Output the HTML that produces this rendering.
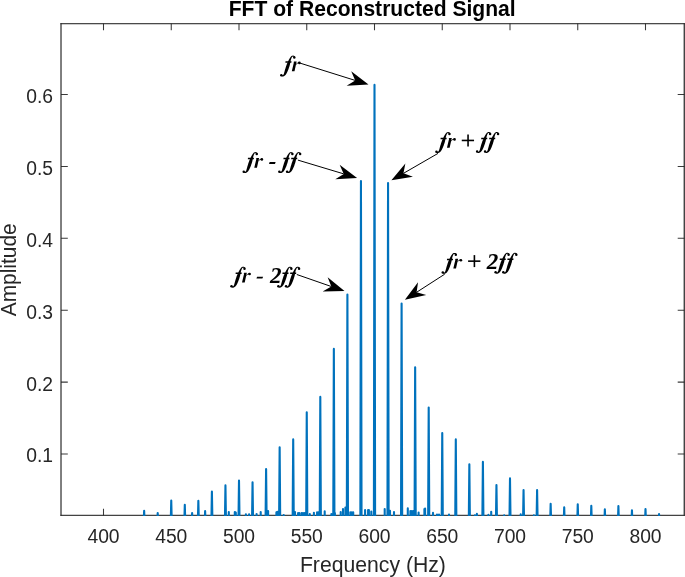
<!DOCTYPE html>
<html><head><meta charset="utf-8"><style>
html,body{margin:0;padding:0;background:#fff;overflow:hidden;width:685px;height:577px}
svg{display:block;will-change:transform}
text{white-space:pre}
</style></head><body>
<svg width="685" height="577" viewBox="0 0 685 577">
<rect width="685" height="577" fill="#fff"/>
<defs><clipPath id="c"><rect x="61.0" y="23.5" width="623.5" height="492.5"/></clipPath></defs>
<path d="M103.5 515.5v-6.8 M103.5 23.5v6.8 M171.25 515.5v-6.8 M171.25 23.5v6.8 M239.0 515.5v-6.8 M239.0 23.5v6.8 M306.75 515.5v-6.8 M306.75 23.5v6.8 M374.5 515.5v-6.8 M374.5 23.5v6.8 M442.25 515.5v-6.8 M442.25 23.5v6.8 M510.0 515.5v-6.8 M510.0 23.5v6.8 M577.75 515.5v-6.8 M577.75 23.5v6.8 M645.5 515.5v-6.8 M645.5 23.5v6.8 M61.0 454.00h6.8 M684.5 454.00h-6.8 M61.0 382.10h6.8 M684.5 382.10h-6.8 M61.0 310.20h6.8 M684.5 310.20h-6.8 M61.0 238.30h6.8 M684.5 238.30h-6.8 M61.0 166.40h6.8 M684.5 166.40h-6.8 M61.0 94.50h6.8 M684.5 94.50h-6.8" stroke="#3a3a3a" stroke-width="1.05" fill="none"/>
<g fill="#262626"><rect x="60.42" y="23.17" width="624.44" height="1.07"/><rect x="60.42" y="514.78" width="624.44" height="1.08"/><rect x="60.42" y="23.17" width="1.17" height="492.69"/><rect x="683.64" y="23.17" width="1.22" height="492.69"/></g>
<g clip-path="url(#c)"><path d="M143.55 525.9L144.15 510.8L144.75 525.9 M157.10 525.9L157.70 513.1L158.30 525.9 M170.65 525.9L171.25 500.6L171.85 525.9 M184.20 525.9L184.80 504.9L185.40 525.9 M191.52 525.9L192.12 513.1L192.72 525.9 M197.75 525.9L198.35 500.9L198.95 525.9 M204.53 525.9L205.12 511.1L205.72 525.9 M211.30 525.9L211.90 491.6L212.50 525.9 M224.85 525.9L225.45 485.4L226.05 525.9 M238.40 525.9L239.00 480.5L239.60 525.9 M251.95 525.9L252.55 482.3L253.15 525.9 M265.50 525.9L266.10 469.0L266.70 525.9 M279.05 525.9L279.65 447.2L280.25 525.9 M292.60 525.9L293.20 439.4L293.80 525.9 M306.15 525.9L306.75 412.2L307.35 525.9 M319.70 525.9L320.30 396.9L320.90 525.9 M333.25 525.9L333.85 348.9L334.45 525.9 M346.80 525.9L347.40 294.6L348.00 525.9 M360.35 525.9L360.95 181.0L361.55 525.9 M373.90 525.9L374.50 84.9L375.10 525.9 M387.45 525.9L388.05 183.0L388.65 525.9 M401.00 525.9L401.60 303.5L402.20 525.9 M414.55 525.9L415.15 367.2L415.75 525.9 M428.10 525.9L428.70 407.6L429.30 525.9 M441.65 525.9L442.25 433.0L442.85 525.9 M455.20 525.9L455.80 439.4L456.40 525.9 M468.75 525.9L469.35 464.3L469.95 525.9 M482.30 525.9L482.90 461.9L483.50 525.9 M495.85 525.9L496.45 485.0L497.05 525.9 M509.40 525.9L510.00 478.4L510.60 525.9 M522.95 525.9L523.55 490.1L524.15 525.9 M536.50 525.9L537.10 490.1L537.70 525.9 M550.05 525.9L550.65 503.8L551.25 525.9 M563.60 525.9L564.20 507.2L564.80 525.9 M577.15 525.9L577.75 504.3L578.35 525.9 M590.70 525.9L591.30 505.7L591.90 525.9 M604.25 525.9L604.85 509.2L605.45 525.9 M617.80 525.9L618.40 506.0L619.00 525.9 M631.35 525.9L631.95 510.4L632.55 525.9 M644.90 525.9L645.50 509.0L646.10 525.9 M658.45 525.9L659.05 514.0L659.65 525.9 M228.80 517.5V512.0 M234.80 517.5V512.0 M235.80 517.5V512.5 M245.90 517.5V514.2 M249.10 517.5V514.2 M256.60 517.5V514.0 M260.70 517.5V512.1 M268.10 517.5V511.0 M276.40 517.5V512.4 M277.50 517.5V511.7 M283.70 517.5V515.0 M295.00 517.5V512.0 M298.10 517.5V513.1 M299.30 517.5V513.1 M301.60 517.5V513.1 M303.00 517.5V513.1 M304.50 517.5V513.1 M309.80 517.5V514.0 M313.90 517.5V512.8 M317.10 517.5V512.3 M318.50 517.5V512.3 M324.70 517.5V511.4 M331.40 517.5V514.0 M334.90 517.5V513.0 M340.70 517.5V512.0 M343.00 517.5V509.0 M345.40 517.5V507.6 M350.30 517.5V512.3 M351.80 517.5V512.3 M353.20 517.5V512.3 M365.10 517.5V510.0 M368.10 517.5V510.0 M368.90 517.5V510.0 M371.30 517.5V511.6 M384.70 517.5V509.0 M390.00 517.5V510.8 M394.00 517.5V512.0 M407.80 517.5V508.4 M410.40 517.5V511.1 M411.80 517.5V511.1 M413.30 517.5V511.1 M418.60 517.5V512.5 M424.40 517.5V509.0 M425.10 517.5V508.5 M433.00 517.5V512.9 M437.00 517.5V514.6 M439.00 517.5V514.6 M449.00 517.5V514.6 M474.90 517.5V515.2 M476.90 517.5V513.9 M488.40 517.5V514.9 M491.20 517.5V511.8 M504.20 517.5V515.4 M520.70 517.5V514.4 M533.90 517.5V515.4" stroke="#0072BD" stroke-width="2.1" stroke-linecap="round" stroke-linejoin="round" fill="none"/></g>
<text transform="translate(103.50 543.10) scale(0.98 1.03)" text-anchor="middle" font-family="Liberation Sans" font-weight="normal" font-style="normal" font-size="19.7" fill="#262626">400</text>
<text transform="translate(171.25 543.10) scale(0.98 1.03)" text-anchor="middle" font-family="Liberation Sans" font-weight="normal" font-style="normal" font-size="19.7" fill="#262626">450</text>
<text transform="translate(239.00 543.10) scale(0.98 1.03)" text-anchor="middle" font-family="Liberation Sans" font-weight="normal" font-style="normal" font-size="19.7" fill="#262626">500</text>
<text transform="translate(306.75 543.10) scale(0.98 1.03)" text-anchor="middle" font-family="Liberation Sans" font-weight="normal" font-style="normal" font-size="19.7" fill="#262626">550</text>
<text transform="translate(374.50 543.10) scale(0.98 1.03)" text-anchor="middle" font-family="Liberation Sans" font-weight="normal" font-style="normal" font-size="19.7" fill="#262626">600</text>
<text transform="translate(442.25 543.10) scale(0.98 1.03)" text-anchor="middle" font-family="Liberation Sans" font-weight="normal" font-style="normal" font-size="19.7" fill="#262626">650</text>
<text transform="translate(510.00 543.10) scale(0.98 1.03)" text-anchor="middle" font-family="Liberation Sans" font-weight="normal" font-style="normal" font-size="19.7" fill="#262626">700</text>
<text transform="translate(577.75 543.10) scale(0.98 1.03)" text-anchor="middle" font-family="Liberation Sans" font-weight="normal" font-style="normal" font-size="19.7" fill="#262626">750</text>
<text transform="translate(645.50 543.10) scale(0.98 1.03)" text-anchor="middle" font-family="Liberation Sans" font-weight="normal" font-style="normal" font-size="19.7" fill="#262626">800</text>
<text transform="translate(53.00 462.40) scale(0.98 1.03)" text-anchor="end" font-family="Liberation Sans" font-weight="normal" font-style="normal" font-size="19.7" fill="#262626">0.1</text>
<text transform="translate(53.00 390.50) scale(0.98 1.03)" text-anchor="end" font-family="Liberation Sans" font-weight="normal" font-style="normal" font-size="19.7" fill="#262626">0.2</text>
<text transform="translate(53.00 318.60) scale(0.98 1.03)" text-anchor="end" font-family="Liberation Sans" font-weight="normal" font-style="normal" font-size="19.7" fill="#262626">0.3</text>
<text transform="translate(53.00 246.70) scale(0.98 1.03)" text-anchor="end" font-family="Liberation Sans" font-weight="normal" font-style="normal" font-size="19.7" fill="#262626">0.4</text>
<text transform="translate(53.00 174.80) scale(0.98 1.03)" text-anchor="end" font-family="Liberation Sans" font-weight="normal" font-style="normal" font-size="19.7" fill="#262626">0.5</text>
<text transform="translate(53.00 102.90) scale(0.98 1.03)" text-anchor="end" font-family="Liberation Sans" font-weight="normal" font-style="normal" font-size="19.7" fill="#262626">0.6</text>
<text transform="translate(372.90 571.50) scale(1.0 1.045)" text-anchor="middle" font-family="Liberation Sans" font-weight="normal" font-style="normal" font-size="21.2" fill="#262626">Frequency (Hz)</text>
<text transform="translate(16.20 269.80) rotate(-90) scale(1.0 1.045)" text-anchor="middle" font-family="Liberation Sans" font-weight="normal" font-style="normal" font-size="20.9" fill="#262626">Amplitude</text>
<text transform="translate(372.20 15.80) scale(1.0 1.045)" text-anchor="middle" font-family="Liberation Sans" font-weight="bold" font-style="normal" font-size="21.1" fill="#000">FFT of Reconstructed Signal</text>
<path d="M299.70 63.00L355.20 80.42" stroke="#000" stroke-width="1.0" fill="none"/><path d="M368.50 84.60L346.66 85.71L355.20 80.42L351.22 71.21Z" fill="#000"/>
<path d="M297.90 160.10L343.75 173.89" stroke="#000" stroke-width="1.0" fill="none"/><path d="M357.10 177.90L335.28 179.28L343.75 173.89L339.66 164.72Z" fill="#000"/>
<path d="M438.00 153.40L403.47 173.33" stroke="#000" stroke-width="1.0" fill="none"/><path d="M391.40 180.30L405.35 163.47L403.47 173.33L412.95 176.63Z" fill="#000"/>
<path d="M296.80 274.50L331.33 286.52" stroke="#000" stroke-width="1.0" fill="none"/><path d="M344.50 291.10L322.64 291.54L331.33 286.52L327.64 277.18Z" fill="#000"/>
<path d="M444.70 274.20L416.62 292.26" stroke="#000" stroke-width="1.0" fill="none"/><path d="M404.90 299.80L418.03 282.32L416.62 292.26L426.25 295.10Z" fill="#000"/>
<g fill="#000"><path d="M295.13 56.74L295.08 56.70L295.02 56.64L294.93 56.54L294.82 56.41L294.69 56.28L294.55 56.14L294.38 56.01L294.20 55.89L294.02 55.81L293.85 55.74L293.68 55.69L293.50 55.65L293.31 55.62L293.13 55.60L292.94 55.59L292.75 55.60L292.57 55.63L292.39 55.67L292.21 55.72L292.03 55.78L291.85 55.86L291.67 55.95L291.50 56.07L291.33 56.20L291.16 56.35L291.00 56.51L290.86 56.68L290.72 56.86L290.59 57.04L290.45 57.23L290.32 57.42L290.19 57.61L290.05 57.82L289.90 58.03L289.76 58.25L289.61 58.48L289.46 58.72L289.31 58.97L289.16 59.23L289.02 59.50L288.87 59.78L288.73 60.07L288.59 60.37L288.46 60.67L288.32 60.96L288.19 61.26L288.05 61.56L287.91 61.86L287.77 62.16L287.63 62.45L287.49 62.74L287.34 63.04L287.19 63.35L287.04 63.69L286.89 64.06L286.73 64.46L286.56 64.92L286.38 65.42L286.20 65.96L286.01 66.52L285.83 67.08L285.65 67.63L285.49 68.15L285.33 68.64L285.19 69.11L285.06 69.57L284.93 70.02L284.81 70.45L284.70 70.87L284.59 71.26L284.49 71.63L284.39 71.97L284.30 72.28L284.23 72.56L284.16 72.82L284.10 73.05L284.04 73.26L283.98 73.46L283.92 73.64L283.86 73.81L283.79 73.97L283.72 74.12L283.65 74.26L283.58 74.39L283.50 74.52L283.41 74.64L283.32 74.75L283.23 74.86L283.14 74.96L283.06 75.06L282.97 75.14L282.90 75.21L282.82 75.26L282.76 75.31L282.69 75.34L282.66 75.35L282.62 75.35L282.56 75.34L282.47 75.31L282.36 75.26L282.24 75.20L282.13 75.14L282.02 75.08L281.93 75.04L281.47 76.26L281.54 76.28L281.63 76.31L281.76 76.35L281.92 76.41L282.10 76.46L282.29 76.51L282.51 76.54L282.74 76.55L282.96 76.52L283.14 76.49L283.33 76.43L283.50 76.37L283.68 76.30L283.84 76.22L284.01 76.13L284.17 76.04L284.33 75.94L284.49 75.83L284.66 75.71L284.84 75.58L285.01 75.43L285.19 75.27L285.37 75.09L285.54 74.89L285.71 74.68L285.87 74.47L286.03 74.25L286.18 74.02L286.33 73.78L286.49 73.52L286.64 73.24L286.81 72.93L286.98 72.59L287.16 72.23L287.34 71.84L287.53 71.43L287.71 71.01L287.90 70.57L288.08 70.12L288.27 69.66L288.45 69.16L288.64 68.63L288.83 68.07L289.02 67.51L289.21 66.95L289.38 66.41L289.53 65.90L289.67 65.44L289.79 65.02L289.88 64.64L289.96 64.28L290.03 63.94L290.10 63.61L290.16 63.29L290.22 62.97L290.29 62.64L290.36 62.31L290.42 61.97L290.49 61.65L290.54 61.33L290.60 61.03L290.66 60.74L290.72 60.46L290.78 60.20L290.85 59.94L290.93 59.68L291.00 59.43L291.08 59.19L291.16 58.95L291.24 58.72L291.33 58.50L291.41 58.29L291.50 58.08L291.59 57.88L291.67 57.69L291.76 57.52L291.84 57.36L291.92 57.22L292.00 57.10L292.07 57.00L292.16 56.92L292.25 56.84L292.34 56.78L292.44 56.72L292.54 56.67L292.65 56.64L292.75 56.61L292.85 56.60L292.95 56.59L293.05 56.60L293.16 56.61L293.26 56.64L293.37 56.68L293.47 56.72L293.55 56.77L293.60 56.81L293.62 56.85L293.65 56.92L293.68 57.01L293.72 57.12L293.75 57.23L293.79 57.35L293.83 57.47L293.87 57.56Z"/><path d="M293.05 57.55a1.25 1.25 0 1 0 2.5 0a1.25 1.25 0 1 0 -2.5 0Z"/><path d="M280.05 75.15a1.25 1.25 0 1 0 2.5 0a1.25 1.25 0 1 0 -2.5 0Z"/><path d="M285.50 61.35L291.50 61.35L291.40 62.85L285.40 62.85Z"/><path d="M291.80 71.25L294.50 71.25L296.65 61.55L294.15 61.55L293.30 62.15L293.95 62.30Z"/><path d="M296.19 64.71L296.30 64.59L296.45 64.41L296.62 64.20L296.81 63.99L297.00 63.80L297.18 63.66L297.35 63.56L297.53 63.46L297.71 63.39L297.89 63.33L298.07 63.30L298.23 63.28L298.38 63.30L298.54 63.34L298.70 63.40L298.86 63.46L299.01 63.51L299.14 63.55L299.06 61.95L298.97 62.00L298.83 62.05L298.64 62.13L298.42 62.21L298.19 62.31L297.97 62.42L297.77 62.54L297.58 62.66L297.39 62.79L297.20 62.93L297.01 63.08L296.82 63.24L296.63 63.43L296.43 63.65L296.24 63.87L296.06 64.09L295.92 64.26L295.81 64.39Z"/><path d="M298.08 62.90a1.32 1.32 0 1 0 2.64 0a1.32 1.32 0 1 0 -2.64 0Z"/><path d="M257.58 153.26L257.53 153.22L257.47 153.16L257.38 153.06L257.27 152.93L257.14 152.80L257.00 152.66L256.83 152.53L256.65 152.41L256.47 152.33L256.30 152.26L256.13 152.21L255.95 152.17L255.76 152.14L255.58 152.12L255.39 152.11L255.20 152.12L255.02 152.15L254.84 152.19L254.66 152.24L254.48 152.30L254.30 152.38L254.12 152.47L253.95 152.59L253.78 152.72L253.61 152.87L253.45 153.03L253.31 153.20L253.17 153.38L253.04 153.56L252.90 153.75L252.77 153.94L252.64 154.13L252.50 154.34L252.35 154.55L252.21 154.77L252.06 155.00L251.91 155.24L251.76 155.49L251.61 155.75L251.47 156.02L251.32 156.30L251.18 156.59L251.04 156.89L250.91 157.19L250.77 157.48L250.64 157.78L250.50 158.08L250.36 158.38L250.22 158.68L250.08 158.97L249.94 159.26L249.79 159.56L249.64 159.87L249.49 160.21L249.34 160.58L249.18 160.98L249.01 161.44L248.83 161.94L248.65 162.48L248.46 163.04L248.28 163.60L248.10 164.15L247.94 164.67L247.78 165.16L247.64 165.63L247.51 166.09L247.38 166.54L247.26 166.97L247.15 167.39L247.04 167.78L246.94 168.15L246.84 168.49L246.75 168.80L246.68 169.08L246.61 169.34L246.55 169.57L246.49 169.78L246.43 169.98L246.37 170.16L246.31 170.33L246.24 170.49L246.17 170.64L246.10 170.78L246.03 170.91L245.95 171.04L245.86 171.16L245.77 171.27L245.68 171.38L245.59 171.48L245.51 171.58L245.42 171.66L245.35 171.73L245.27 171.78L245.21 171.83L245.14 171.86L245.11 171.87L245.07 171.87L245.01 171.86L244.92 171.83L244.81 171.78L244.69 171.72L244.58 171.66L244.47 171.60L244.38 171.56L243.92 172.78L243.99 172.80L244.08 172.83L244.21 172.87L244.37 172.93L244.55 172.98L244.74 173.03L244.96 173.06L245.19 173.07L245.41 173.04L245.59 173.01L245.78 172.95L245.95 172.89L246.13 172.82L246.29 172.74L246.46 172.65L246.62 172.56L246.78 172.46L246.94 172.35L247.11 172.23L247.29 172.10L247.46 171.95L247.64 171.79L247.82 171.61L247.99 171.41L248.16 171.20L248.32 170.99L248.48 170.77L248.63 170.54L248.78 170.30L248.94 170.04L249.09 169.76L249.26 169.45L249.43 169.11L249.61 168.75L249.79 168.36L249.98 167.95L250.16 167.53L250.35 167.09L250.53 166.64L250.72 166.18L250.90 165.68L251.09 165.15L251.28 164.59L251.47 164.03L251.66 163.47L251.83 162.93L251.98 162.42L252.12 161.96L252.24 161.54L252.33 161.16L252.41 160.80L252.48 160.46L252.55 160.13L252.61 159.81L252.67 159.49L252.74 159.16L252.81 158.83L252.87 158.49L252.94 158.17L252.99 157.85L253.05 157.55L253.11 157.26L253.17 156.98L253.23 156.72L253.30 156.46L253.38 156.20L253.45 155.95L253.53 155.71L253.61 155.47L253.69 155.24L253.78 155.02L253.86 154.81L253.95 154.60L254.04 154.40L254.12 154.21L254.21 154.04L254.29 153.88L254.37 153.74L254.45 153.62L254.52 153.52L254.61 153.44L254.70 153.36L254.79 153.30L254.89 153.24L254.99 153.19L255.10 153.16L255.20 153.13L255.30 153.12L255.40 153.11L255.50 153.12L255.61 153.13L255.71 153.16L255.82 153.20L255.92 153.24L256.00 153.29L256.05 153.33L256.07 153.37L256.10 153.44L256.13 153.53L256.17 153.64L256.20 153.75L256.24 153.87L256.28 153.99L256.32 154.08Z"/><path d="M255.50 154.07a1.25 1.25 0 1 0 2.5 0a1.25 1.25 0 1 0 -2.5 0Z"/><path d="M242.50 171.67a1.25 1.25 0 1 0 2.5 0a1.25 1.25 0 1 0 -2.5 0Z"/><path d="M247.95 157.87L253.95 157.87L253.85 159.37L247.85 159.37Z"/><path d="M254.25 167.77L256.95 167.77L259.10 158.07L256.60 158.07L255.75 158.67L256.40 158.82Z"/><path d="M258.64 161.23L258.75 161.11L258.90 160.93L259.07 160.72L259.26 160.51L259.45 160.32L259.63 160.18L259.80 160.08L259.98 159.98L260.16 159.91L260.34 159.85L260.52 159.82L260.68 159.80L260.83 159.82L260.99 159.86L261.15 159.92L261.31 159.98L261.46 160.03L261.59 160.07L261.51 158.47L261.42 158.52L261.28 158.57L261.09 158.65L260.87 158.73L260.64 158.83L260.42 158.94L260.22 159.06L260.03 159.18L259.84 159.31L259.65 159.45L259.46 159.60L259.27 159.76L259.08 159.95L258.88 160.17L258.69 160.39L258.51 160.61L258.37 160.78L258.26 160.91Z"/><path d="M260.53 159.42a1.32 1.32 0 1 0 2.64 0a1.32 1.32 0 1 0 -2.64 0Z"/><path d="M269.65 162.12L275.65 162.12L274.95 163.92L269.00 163.92Z"/><path d="M293.18 153.26L293.13 153.22L293.07 153.16L292.98 153.06L292.87 152.93L292.74 152.80L292.60 152.66L292.43 152.53L292.25 152.41L292.07 152.33L291.90 152.26L291.73 152.21L291.55 152.17L291.36 152.14L291.18 152.12L290.99 152.11L290.80 152.12L290.62 152.15L290.44 152.19L290.26 152.24L290.08 152.30L289.90 152.38L289.72 152.47L289.55 152.59L289.38 152.72L289.21 152.87L289.05 153.03L288.91 153.20L288.77 153.38L288.64 153.56L288.50 153.75L288.37 153.94L288.24 154.13L288.10 154.34L287.95 154.55L287.81 154.77L287.66 155.00L287.51 155.24L287.36 155.49L287.21 155.75L287.07 156.02L286.92 156.30L286.78 156.59L286.64 156.89L286.51 157.19L286.37 157.48L286.24 157.78L286.10 158.08L285.96 158.38L285.82 158.68L285.68 158.97L285.54 159.26L285.39 159.56L285.24 159.87L285.09 160.21L284.94 160.58L284.78 160.98L284.61 161.44L284.43 161.94L284.25 162.48L284.06 163.04L283.88 163.60L283.70 164.15L283.54 164.67L283.38 165.16L283.24 165.63L283.11 166.09L282.98 166.54L282.86 166.97L282.75 167.39L282.64 167.78L282.54 168.15L282.44 168.49L282.35 168.80L282.28 169.08L282.21 169.34L282.15 169.57L282.09 169.78L282.03 169.98L281.97 170.16L281.91 170.33L281.84 170.49L281.77 170.64L281.70 170.78L281.63 170.91L281.55 171.04L281.46 171.16L281.37 171.27L281.28 171.38L281.19 171.48L281.11 171.58L281.02 171.66L280.95 171.73L280.87 171.78L280.81 171.83L280.74 171.86L280.71 171.87L280.67 171.87L280.61 171.86L280.52 171.83L280.41 171.78L280.29 171.72L280.18 171.66L280.07 171.60L279.98 171.56L279.52 172.78L279.59 172.80L279.68 172.83L279.81 172.87L279.97 172.93L280.15 172.98L280.34 173.03L280.56 173.06L280.79 173.07L281.01 173.04L281.19 173.01L281.38 172.95L281.55 172.89L281.73 172.82L281.89 172.74L282.06 172.65L282.22 172.56L282.38 172.46L282.54 172.35L282.71 172.23L282.89 172.10L283.06 171.95L283.24 171.79L283.42 171.61L283.59 171.41L283.76 171.20L283.92 170.99L284.08 170.77L284.23 170.54L284.38 170.30L284.54 170.04L284.69 169.76L284.86 169.45L285.03 169.11L285.21 168.75L285.39 168.36L285.58 167.95L285.76 167.53L285.95 167.09L286.13 166.64L286.32 166.18L286.50 165.68L286.69 165.15L286.88 164.59L287.07 164.03L287.26 163.47L287.43 162.93L287.58 162.42L287.72 161.96L287.84 161.54L287.93 161.16L288.01 160.80L288.08 160.46L288.15 160.13L288.21 159.81L288.27 159.49L288.34 159.16L288.41 158.83L288.47 158.49L288.54 158.17L288.59 157.85L288.65 157.55L288.71 157.26L288.77 156.98L288.83 156.72L288.90 156.46L288.98 156.20L289.05 155.95L289.13 155.71L289.21 155.47L289.29 155.24L289.38 155.02L289.46 154.81L289.55 154.60L289.64 154.40L289.72 154.21L289.81 154.04L289.89 153.88L289.97 153.74L290.05 153.62L290.12 153.52L290.21 153.44L290.30 153.36L290.39 153.30L290.49 153.24L290.59 153.19L290.70 153.16L290.80 153.13L290.90 153.12L291.00 153.11L291.10 153.12L291.21 153.13L291.31 153.16L291.42 153.20L291.52 153.24L291.60 153.29L291.65 153.33L291.67 153.37L291.70 153.44L291.73 153.53L291.77 153.64L291.80 153.75L291.84 153.87L291.88 153.99L291.92 154.08Z"/><path d="M291.10 154.07a1.25 1.25 0 1 0 2.5 0a1.25 1.25 0 1 0 -2.5 0Z"/><path d="M278.10 171.67a1.25 1.25 0 1 0 2.5 0a1.25 1.25 0 1 0 -2.5 0Z"/><path d="M283.55 157.87L289.55 157.87L289.45 159.37L283.45 159.37Z"/><path d="M300.93 153.26L300.88 153.22L300.82 153.16L300.73 153.06L300.62 152.93L300.49 152.80L300.35 152.66L300.18 152.53L300.00 152.41L299.82 152.33L299.65 152.26L299.48 152.21L299.30 152.17L299.11 152.14L298.93 152.12L298.74 152.11L298.55 152.12L298.37 152.15L298.19 152.19L298.01 152.24L297.83 152.30L297.65 152.38L297.47 152.47L297.30 152.59L297.13 152.72L296.96 152.87L296.80 153.03L296.66 153.20L296.52 153.38L296.39 153.56L296.25 153.75L296.12 153.94L295.99 154.13L295.85 154.34L295.70 154.55L295.56 154.77L295.41 155.00L295.26 155.24L295.11 155.49L294.96 155.75L294.82 156.02L294.67 156.30L294.53 156.59L294.39 156.89L294.26 157.19L294.12 157.48L293.99 157.78L293.85 158.08L293.71 158.38L293.57 158.68L293.43 158.97L293.29 159.26L293.14 159.56L292.99 159.87L292.84 160.21L292.69 160.58L292.53 160.98L292.36 161.44L292.18 161.94L292.00 162.48L291.81 163.04L291.63 163.60L291.45 164.15L291.29 164.67L291.13 165.16L290.99 165.63L290.86 166.09L290.73 166.54L290.61 166.97L290.50 167.39L290.39 167.78L290.29 168.15L290.19 168.49L290.10 168.80L290.03 169.08L289.96 169.34L289.90 169.57L289.84 169.78L289.78 169.98L289.72 170.16L289.66 170.33L289.59 170.49L289.52 170.64L289.45 170.78L289.38 170.91L289.30 171.04L289.21 171.16L289.12 171.27L289.03 171.38L288.94 171.48L288.86 171.58L288.77 171.66L288.70 171.73L288.62 171.78L288.56 171.83L288.49 171.86L288.46 171.87L288.42 171.87L288.36 171.86L288.27 171.83L288.16 171.78L288.04 171.72L287.93 171.66L287.82 171.60L287.73 171.56L287.27 172.78L287.34 172.80L287.43 172.83L287.56 172.87L287.72 172.93L287.90 172.98L288.09 173.03L288.31 173.06L288.54 173.07L288.76 173.04L288.94 173.01L289.13 172.95L289.30 172.89L289.48 172.82L289.64 172.74L289.81 172.65L289.97 172.56L290.13 172.46L290.29 172.35L290.46 172.23L290.64 172.10L290.81 171.95L290.99 171.79L291.17 171.61L291.34 171.41L291.51 171.20L291.67 170.99L291.83 170.77L291.98 170.54L292.13 170.30L292.29 170.04L292.44 169.76L292.61 169.45L292.78 169.11L292.96 168.75L293.14 168.36L293.33 167.95L293.51 167.53L293.70 167.09L293.88 166.64L294.07 166.18L294.25 165.68L294.44 165.15L294.63 164.59L294.82 164.03L295.01 163.47L295.18 162.93L295.33 162.42L295.47 161.96L295.59 161.54L295.68 161.16L295.76 160.80L295.83 160.46L295.90 160.13L295.96 159.81L296.02 159.49L296.09 159.16L296.16 158.83L296.22 158.49L296.29 158.17L296.34 157.85L296.40 157.55L296.46 157.26L296.52 156.98L296.58 156.72L296.65 156.46L296.73 156.20L296.80 155.95L296.88 155.71L296.96 155.47L297.04 155.24L297.13 155.02L297.21 154.81L297.30 154.60L297.39 154.40L297.47 154.21L297.56 154.04L297.64 153.88L297.72 153.74L297.80 153.62L297.87 153.52L297.96 153.44L298.05 153.36L298.14 153.30L298.24 153.24L298.34 153.19L298.45 153.16L298.55 153.13L298.65 153.12L298.75 153.11L298.85 153.12L298.96 153.13L299.06 153.16L299.17 153.20L299.27 153.24L299.35 153.29L299.40 153.33L299.42 153.37L299.45 153.44L299.48 153.53L299.52 153.64L299.55 153.75L299.59 153.87L299.63 153.99L299.67 154.08Z"/><path d="M298.85 154.07a1.25 1.25 0 1 0 2.5 0a1.25 1.25 0 1 0 -2.5 0Z"/><path d="M285.85 171.67a1.25 1.25 0 1 0 2.5 0a1.25 1.25 0 1 0 -2.5 0Z"/><path d="M291.30 157.87L297.30 157.87L297.20 159.37L291.20 159.37Z"/><path d="M450.28 133.24L450.23 133.20L450.17 133.14L450.08 133.04L449.97 132.91L449.84 132.78L449.70 132.64L449.53 132.51L449.35 132.39L449.17 132.31L449.00 132.24L448.83 132.19L448.65 132.15L448.46 132.12L448.28 132.10L448.09 132.09L447.90 132.10L447.72 132.13L447.54 132.17L447.36 132.22L447.18 132.28L447.00 132.36L446.82 132.45L446.65 132.57L446.48 132.70L446.31 132.85L446.15 133.01L446.01 133.18L445.87 133.36L445.74 133.54L445.60 133.73L445.47 133.92L445.34 134.11L445.20 134.32L445.05 134.53L444.91 134.75L444.76 134.98L444.61 135.22L444.46 135.47L444.31 135.73L444.17 136.00L444.02 136.28L443.88 136.57L443.74 136.87L443.61 137.17L443.47 137.46L443.34 137.76L443.20 138.06L443.06 138.36L442.92 138.66L442.78 138.95L442.64 139.24L442.49 139.54L442.34 139.85L442.19 140.19L442.04 140.56L441.88 140.96L441.71 141.42L441.53 141.92L441.35 142.46L441.16 143.02L440.98 143.58L440.80 144.13L440.64 144.65L440.48 145.14L440.34 145.61L440.21 146.07L440.08 146.52L439.96 146.95L439.85 147.37L439.74 147.76L439.64 148.13L439.54 148.47L439.45 148.78L439.38 149.06L439.31 149.32L439.25 149.55L439.19 149.76L439.13 149.96L439.07 150.14L439.01 150.31L438.94 150.47L438.87 150.62L438.80 150.76L438.73 150.89L438.65 151.02L438.56 151.14L438.47 151.25L438.38 151.36L438.29 151.46L438.21 151.56L438.12 151.64L438.05 151.71L437.97 151.76L437.91 151.81L437.84 151.84L437.81 151.85L437.77 151.85L437.71 151.84L437.62 151.81L437.51 151.76L437.39 151.70L437.28 151.64L437.17 151.58L437.08 151.54L436.62 152.76L436.69 152.78L436.78 152.81L436.91 152.85L437.07 152.91L437.25 152.96L437.44 153.01L437.66 153.04L437.89 153.05L438.11 153.02L438.29 152.99L438.48 152.93L438.65 152.87L438.83 152.80L438.99 152.72L439.16 152.63L439.32 152.54L439.48 152.44L439.64 152.33L439.81 152.21L439.99 152.08L440.16 151.93L440.34 151.77L440.52 151.59L440.69 151.39L440.86 151.18L441.02 150.97L441.18 150.75L441.33 150.52L441.48 150.28L441.64 150.02L441.79 149.74L441.96 149.43L442.13 149.09L442.31 148.73L442.49 148.34L442.68 147.93L442.86 147.51L443.05 147.07L443.23 146.62L443.42 146.16L443.60 145.66L443.79 145.13L443.98 144.57L444.17 144.01L444.36 143.45L444.53 142.91L444.68 142.40L444.82 141.94L444.94 141.52L445.03 141.14L445.11 140.78L445.18 140.44L445.25 140.11L445.31 139.79L445.37 139.47L445.44 139.14L445.51 138.81L445.57 138.47L445.64 138.15L445.69 137.83L445.75 137.53L445.81 137.24L445.87 136.96L445.93 136.70L446.00 136.44L446.08 136.18L446.15 135.93L446.23 135.69L446.31 135.45L446.39 135.22L446.48 135.00L446.56 134.79L446.65 134.58L446.74 134.38L446.82 134.19L446.91 134.02L446.99 133.86L447.07 133.72L447.15 133.60L447.22 133.50L447.31 133.42L447.40 133.34L447.49 133.28L447.59 133.22L447.69 133.17L447.80 133.14L447.90 133.11L448.00 133.10L448.10 133.09L448.20 133.10L448.31 133.11L448.41 133.14L448.52 133.18L448.62 133.22L448.70 133.27L448.75 133.31L448.77 133.35L448.80 133.42L448.83 133.51L448.87 133.62L448.90 133.73L448.94 133.85L448.98 133.97L449.02 134.06Z"/><path d="M448.20 134.05a1.25 1.25 0 1 0 2.5 0a1.25 1.25 0 1 0 -2.5 0Z"/><path d="M435.20 151.65a1.25 1.25 0 1 0 2.5 0a1.25 1.25 0 1 0 -2.5 0Z"/><path d="M440.65 137.85L446.65 137.85L446.55 139.35L440.55 139.35Z"/><path d="M446.95 147.75L449.65 147.75L451.80 138.05L449.30 138.05L448.45 138.65L449.10 138.80Z"/><path d="M451.34 141.21L451.45 141.09L451.60 140.91L451.77 140.70L451.96 140.49L452.15 140.30L452.33 140.16L452.50 140.06L452.68 139.96L452.86 139.89L453.04 139.83L453.22 139.80L453.38 139.78L453.53 139.80L453.69 139.84L453.85 139.90L454.01 139.96L454.16 140.01L454.29 140.05L454.21 138.45L454.12 138.50L453.98 138.55L453.79 138.63L453.57 138.71L453.34 138.81L453.12 138.92L452.92 139.04L452.73 139.16L452.54 139.29L452.35 139.43L452.16 139.58L451.97 139.74L451.78 139.93L451.58 140.15L451.39 140.37L451.21 140.59L451.07 140.76L450.96 140.89Z"/><path d="M453.23 139.40a1.32 1.32 0 1 0 2.64 0a1.32 1.32 0 1 0 -2.64 0Z"/><path d="M461.75 139.65L474.05 139.65L474.05 141.25L461.75 141.25Z"/><path d="M467.25 134.40L468.85 134.40L468.85 146.40L467.25 146.40Z"/><path d="M490.93 133.19L490.88 133.15L490.82 133.09L490.73 132.99L490.62 132.86L490.49 132.73L490.35 132.59L490.18 132.46L490.00 132.34L489.82 132.26L489.65 132.19L489.48 132.14L489.30 132.10L489.11 132.07L488.93 132.05L488.74 132.04L488.55 132.05L488.37 132.08L488.19 132.12L488.01 132.17L487.83 132.23L487.65 132.31L487.47 132.40L487.30 132.52L487.13 132.65L486.96 132.80L486.80 132.96L486.66 133.13L486.52 133.31L486.39 133.49L486.25 133.68L486.12 133.87L485.99 134.06L485.85 134.27L485.70 134.48L485.56 134.70L485.41 134.93L485.26 135.17L485.11 135.42L484.96 135.68L484.82 135.95L484.67 136.23L484.53 136.52L484.39 136.82L484.26 137.12L484.12 137.41L483.99 137.71L483.85 138.01L483.71 138.31L483.57 138.61L483.43 138.90L483.29 139.19L483.14 139.49L482.99 139.80L482.84 140.14L482.69 140.51L482.53 140.91L482.36 141.37L482.18 141.87L482.00 142.41L481.81 142.97L481.63 143.53L481.45 144.08L481.29 144.60L481.13 145.09L480.99 145.56L480.86 146.02L480.73 146.47L480.61 146.90L480.50 147.32L480.39 147.71L480.29 148.08L480.19 148.42L480.10 148.73L480.03 149.01L479.96 149.27L479.90 149.50L479.84 149.71L479.78 149.91L479.72 150.09L479.66 150.26L479.59 150.42L479.52 150.57L479.45 150.71L479.38 150.84L479.30 150.97L479.21 151.09L479.12 151.20L479.03 151.31L478.94 151.41L478.86 151.51L478.77 151.59L478.70 151.66L478.62 151.71L478.56 151.76L478.49 151.79L478.46 151.80L478.42 151.80L478.36 151.79L478.27 151.76L478.16 151.71L478.04 151.65L477.93 151.59L477.82 151.53L477.73 151.49L477.27 152.71L477.34 152.73L477.43 152.76L477.56 152.80L477.72 152.86L477.90 152.91L478.09 152.96L478.31 152.99L478.54 153.00L478.76 152.97L478.94 152.94L479.13 152.88L479.30 152.82L479.48 152.75L479.64 152.67L479.81 152.58L479.97 152.49L480.13 152.39L480.29 152.28L480.46 152.16L480.64 152.03L480.81 151.88L480.99 151.72L481.17 151.54L481.34 151.34L481.51 151.13L481.67 150.92L481.83 150.70L481.98 150.47L482.13 150.23L482.29 149.97L482.44 149.69L482.61 149.38L482.78 149.04L482.96 148.68L483.14 148.29L483.33 147.88L483.51 147.46L483.70 147.02L483.88 146.57L484.07 146.11L484.25 145.61L484.44 145.08L484.63 144.52L484.82 143.96L485.01 143.40L485.18 142.86L485.33 142.35L485.47 141.89L485.59 141.47L485.68 141.09L485.76 140.73L485.83 140.39L485.90 140.06L485.96 139.74L486.02 139.42L486.09 139.09L486.16 138.76L486.22 138.42L486.29 138.10L486.34 137.78L486.40 137.48L486.46 137.19L486.52 136.91L486.58 136.65L486.65 136.39L486.73 136.13L486.80 135.88L486.88 135.64L486.96 135.40L487.04 135.17L487.13 134.95L487.21 134.74L487.30 134.53L487.39 134.33L487.47 134.14L487.56 133.97L487.64 133.81L487.72 133.67L487.80 133.55L487.87 133.45L487.96 133.37L488.05 133.29L488.14 133.23L488.24 133.17L488.34 133.12L488.45 133.09L488.55 133.06L488.65 133.05L488.75 133.04L488.85 133.05L488.96 133.06L489.06 133.09L489.17 133.13L489.27 133.17L489.35 133.22L489.40 133.26L489.42 133.30L489.45 133.37L489.48 133.46L489.52 133.57L489.55 133.68L489.59 133.80L489.63 133.92L489.67 134.01Z"/><path d="M488.85 134.00a1.25 1.25 0 1 0 2.5 0a1.25 1.25 0 1 0 -2.5 0Z"/><path d="M475.85 151.60a1.25 1.25 0 1 0 2.5 0a1.25 1.25 0 1 0 -2.5 0Z"/><path d="M481.30 137.80L487.30 137.80L487.20 139.30L481.20 139.30Z"/><path d="M498.88 133.19L498.83 133.15L498.77 133.09L498.68 132.99L498.57 132.86L498.44 132.73L498.30 132.59L498.13 132.46L497.95 132.34L497.77 132.26L497.60 132.19L497.43 132.14L497.25 132.10L497.06 132.07L496.88 132.05L496.69 132.04L496.50 132.05L496.32 132.08L496.14 132.12L495.96 132.17L495.78 132.23L495.60 132.31L495.42 132.40L495.25 132.52L495.08 132.65L494.91 132.80L494.75 132.96L494.61 133.13L494.47 133.31L494.34 133.49L494.20 133.68L494.07 133.87L493.94 134.06L493.80 134.27L493.65 134.48L493.51 134.70L493.36 134.93L493.21 135.17L493.06 135.42L492.91 135.68L492.77 135.95L492.62 136.23L492.48 136.52L492.34 136.82L492.21 137.12L492.07 137.41L491.94 137.71L491.80 138.01L491.66 138.31L491.52 138.61L491.38 138.90L491.24 139.19L491.09 139.49L490.94 139.80L490.79 140.14L490.64 140.51L490.48 140.91L490.31 141.37L490.13 141.87L489.95 142.41L489.76 142.97L489.58 143.53L489.40 144.08L489.24 144.60L489.08 145.09L488.94 145.56L488.81 146.02L488.68 146.47L488.56 146.90L488.45 147.32L488.34 147.71L488.24 148.08L488.14 148.42L488.05 148.73L487.98 149.01L487.91 149.27L487.85 149.50L487.79 149.71L487.73 149.91L487.67 150.09L487.61 150.26L487.54 150.42L487.47 150.57L487.40 150.71L487.33 150.84L487.25 150.97L487.16 151.09L487.07 151.20L486.98 151.31L486.89 151.41L486.81 151.51L486.72 151.59L486.65 151.66L486.57 151.71L486.51 151.76L486.44 151.79L486.41 151.80L486.37 151.80L486.31 151.79L486.22 151.76L486.11 151.71L485.99 151.65L485.88 151.59L485.77 151.53L485.68 151.49L485.22 152.71L485.29 152.73L485.38 152.76L485.51 152.80L485.67 152.86L485.85 152.91L486.04 152.96L486.26 152.99L486.49 153.00L486.71 152.97L486.89 152.94L487.08 152.88L487.25 152.82L487.43 152.75L487.59 152.67L487.76 152.58L487.92 152.49L488.08 152.39L488.24 152.28L488.41 152.16L488.59 152.03L488.76 151.88L488.94 151.72L489.12 151.54L489.29 151.34L489.46 151.13L489.62 150.92L489.78 150.70L489.93 150.47L490.08 150.23L490.24 149.97L490.39 149.69L490.56 149.38L490.73 149.04L490.91 148.68L491.09 148.29L491.28 147.88L491.46 147.46L491.65 147.02L491.83 146.57L492.02 146.11L492.20 145.61L492.39 145.08L492.58 144.52L492.77 143.96L492.96 143.40L493.13 142.86L493.28 142.35L493.42 141.89L493.54 141.47L493.63 141.09L493.71 140.73L493.78 140.39L493.85 140.06L493.91 139.74L493.97 139.42L494.04 139.09L494.11 138.76L494.17 138.42L494.24 138.10L494.29 137.78L494.35 137.48L494.41 137.19L494.47 136.91L494.53 136.65L494.60 136.39L494.68 136.13L494.75 135.88L494.83 135.64L494.91 135.40L494.99 135.17L495.08 134.95L495.16 134.74L495.25 134.53L495.34 134.33L495.42 134.14L495.51 133.97L495.59 133.81L495.67 133.67L495.75 133.55L495.82 133.45L495.91 133.37L496.00 133.29L496.09 133.23L496.19 133.17L496.29 133.12L496.40 133.09L496.50 133.06L496.60 133.05L496.70 133.04L496.80 133.05L496.91 133.06L497.01 133.09L497.12 133.13L497.22 133.17L497.30 133.22L497.35 133.26L497.37 133.30L497.40 133.37L497.43 133.46L497.47 133.57L497.50 133.68L497.54 133.80L497.58 133.92L497.62 134.01Z"/><path d="M496.80 134.00a1.25 1.25 0 1 0 2.5 0a1.25 1.25 0 1 0 -2.5 0Z"/><path d="M483.80 151.60a1.25 1.25 0 1 0 2.5 0a1.25 1.25 0 1 0 -2.5 0Z"/><path d="M489.25 137.80L495.25 137.80L495.15 139.30L489.15 139.30Z"/><path d="M245.33 267.89L245.28 267.85L245.22 267.79L245.13 267.69L245.02 267.56L244.89 267.43L244.75 267.29L244.58 267.16L244.40 267.04L244.22 266.96L244.05 266.89L243.88 266.84L243.70 266.80L243.51 266.77L243.33 266.75L243.14 266.74L242.95 266.75L242.77 266.78L242.59 266.82L242.41 266.87L242.23 266.93L242.05 267.01L241.87 267.10L241.70 267.22L241.53 267.35L241.36 267.50L241.20 267.66L241.06 267.83L240.92 268.01L240.79 268.19L240.65 268.38L240.52 268.57L240.39 268.76L240.25 268.97L240.10 269.18L239.96 269.40L239.81 269.63L239.66 269.87L239.51 270.12L239.36 270.38L239.22 270.65L239.07 270.93L238.93 271.22L238.79 271.52L238.66 271.82L238.52 272.11L238.39 272.41L238.25 272.71L238.11 273.01L237.97 273.31L237.83 273.60L237.69 273.89L237.54 274.19L237.39 274.50L237.24 274.84L237.09 275.21L236.93 275.61L236.76 276.07L236.58 276.57L236.40 277.11L236.21 277.67L236.03 278.23L235.85 278.78L235.69 279.30L235.53 279.79L235.39 280.26L235.26 280.72L235.13 281.17L235.01 281.60L234.90 282.02L234.79 282.41L234.69 282.78L234.59 283.12L234.50 283.43L234.43 283.71L234.36 283.97L234.30 284.20L234.24 284.41L234.18 284.61L234.12 284.79L234.06 284.96L233.99 285.12L233.92 285.27L233.85 285.41L233.78 285.54L233.70 285.67L233.61 285.79L233.52 285.90L233.43 286.01L233.34 286.11L233.26 286.21L233.17 286.29L233.10 286.36L233.02 286.41L232.96 286.46L232.89 286.49L232.86 286.50L232.82 286.50L232.76 286.49L232.67 286.46L232.56 286.41L232.44 286.35L232.33 286.29L232.22 286.23L232.13 286.19L231.67 287.41L231.74 287.43L231.83 287.46L231.96 287.50L232.12 287.56L232.30 287.61L232.49 287.66L232.71 287.69L232.94 287.70L233.16 287.67L233.34 287.64L233.53 287.58L233.70 287.52L233.88 287.45L234.04 287.37L234.21 287.28L234.37 287.19L234.53 287.09L234.69 286.98L234.86 286.86L235.04 286.73L235.21 286.58L235.39 286.42L235.57 286.24L235.74 286.04L235.91 285.83L236.07 285.62L236.23 285.40L236.38 285.17L236.53 284.93L236.69 284.67L236.84 284.39L237.01 284.08L237.18 283.74L237.36 283.38L237.54 282.99L237.73 282.58L237.91 282.16L238.10 281.72L238.28 281.27L238.47 280.81L238.65 280.31L238.84 279.78L239.03 279.22L239.22 278.66L239.41 278.10L239.58 277.56L239.73 277.05L239.87 276.59L239.99 276.17L240.08 275.79L240.16 275.43L240.23 275.09L240.30 274.76L240.36 274.44L240.42 274.12L240.49 273.79L240.56 273.46L240.62 273.12L240.69 272.80L240.74 272.48L240.80 272.18L240.86 271.89L240.92 271.61L240.98 271.35L241.05 271.09L241.13 270.83L241.20 270.58L241.28 270.34L241.36 270.10L241.44 269.87L241.53 269.65L241.61 269.44L241.70 269.23L241.79 269.03L241.87 268.84L241.96 268.67L242.04 268.51L242.12 268.37L242.20 268.25L242.27 268.15L242.36 268.07L242.45 267.99L242.54 267.93L242.64 267.87L242.74 267.82L242.85 267.79L242.95 267.76L243.05 267.75L243.15 267.74L243.25 267.75L243.36 267.76L243.46 267.79L243.57 267.83L243.67 267.87L243.75 267.92L243.80 267.96L243.82 268.00L243.85 268.07L243.88 268.16L243.92 268.27L243.95 268.38L243.99 268.50L244.03 268.62L244.07 268.71Z"/><path d="M243.25 268.70a1.25 1.25 0 1 0 2.5 0a1.25 1.25 0 1 0 -2.5 0Z"/><path d="M230.25 286.30a1.25 1.25 0 1 0 2.5 0a1.25 1.25 0 1 0 -2.5 0Z"/><path d="M235.70 272.50L241.70 272.50L241.60 274.00L235.60 274.00Z"/><path d="M242.00 282.40L244.70 282.40L246.85 272.70L244.35 272.70L243.50 273.30L244.15 273.45Z"/><path d="M246.39 275.86L246.50 275.74L246.65 275.56L246.82 275.35L247.01 275.14L247.20 274.95L247.38 274.81L247.55 274.71L247.73 274.61L247.91 274.54L248.09 274.48L248.27 274.45L248.43 274.43L248.58 274.45L248.74 274.49L248.90 274.55L249.06 274.61L249.21 274.66L249.34 274.70L249.26 273.10L249.17 273.15L249.03 273.20L248.84 273.28L248.62 273.36L248.39 273.46L248.17 273.57L247.97 273.69L247.78 273.81L247.59 273.94L247.40 274.08L247.21 274.23L247.02 274.39L246.83 274.58L246.63 274.80L246.44 275.02L246.26 275.24L246.12 275.41L246.01 275.54Z"/><path d="M248.28 274.05a1.32 1.32 0 1 0 2.64 0a1.32 1.32 0 1 0 -2.64 0Z"/><path d="M257.10 276.75L263.10 276.75L262.40 278.55L256.45 278.55Z"/><path d="M292.18 267.89L292.13 267.85L292.07 267.79L291.98 267.69L291.87 267.56L291.74 267.43L291.60 267.29L291.43 267.16L291.25 267.04L291.07 266.96L290.90 266.89L290.73 266.84L290.55 266.80L290.36 266.77L290.18 266.75L289.99 266.74L289.80 266.75L289.62 266.78L289.44 266.82L289.26 266.87L289.08 266.93L288.90 267.01L288.72 267.10L288.55 267.22L288.38 267.35L288.21 267.50L288.05 267.66L287.91 267.83L287.77 268.01L287.64 268.19L287.50 268.38L287.37 268.57L287.24 268.76L287.10 268.97L286.95 269.18L286.81 269.40L286.66 269.63L286.51 269.87L286.36 270.12L286.21 270.38L286.07 270.65L285.92 270.93L285.78 271.22L285.64 271.52L285.51 271.82L285.37 272.11L285.24 272.41L285.10 272.71L284.96 273.01L284.82 273.31L284.68 273.60L284.54 273.89L284.39 274.19L284.24 274.50L284.09 274.84L283.94 275.21L283.78 275.61L283.61 276.07L283.43 276.57L283.25 277.11L283.06 277.67L282.88 278.23L282.70 278.78L282.54 279.30L282.38 279.79L282.24 280.26L282.11 280.72L281.98 281.17L281.86 281.60L281.75 282.02L281.64 282.41L281.54 282.78L281.44 283.12L281.35 283.43L281.28 283.71L281.21 283.97L281.15 284.20L281.09 284.41L281.03 284.61L280.97 284.79L280.91 284.96L280.84 285.12L280.77 285.27L280.70 285.41L280.63 285.54L280.55 285.67L280.46 285.79L280.37 285.90L280.28 286.01L280.19 286.11L280.11 286.21L280.02 286.29L279.95 286.36L279.87 286.41L279.81 286.46L279.74 286.49L279.71 286.50L279.67 286.50L279.61 286.49L279.52 286.46L279.41 286.41L279.29 286.35L279.18 286.29L279.07 286.23L278.98 286.19L278.52 287.41L278.59 287.43L278.68 287.46L278.81 287.50L278.97 287.56L279.15 287.61L279.34 287.66L279.56 287.69L279.79 287.70L280.01 287.67L280.19 287.64L280.38 287.58L280.55 287.52L280.73 287.45L280.89 287.37L281.06 287.28L281.22 287.19L281.38 287.09L281.54 286.98L281.71 286.86L281.89 286.73L282.06 286.58L282.24 286.42L282.42 286.24L282.59 286.04L282.76 285.83L282.92 285.62L283.08 285.40L283.23 285.17L283.38 284.93L283.54 284.67L283.69 284.39L283.86 284.08L284.03 283.74L284.21 283.38L284.39 282.99L284.58 282.58L284.76 282.16L284.95 281.72L285.13 281.27L285.32 280.81L285.50 280.31L285.69 279.78L285.88 279.22L286.07 278.66L286.26 278.10L286.43 277.56L286.58 277.05L286.72 276.59L286.84 276.17L286.93 275.79L287.01 275.43L287.08 275.09L287.15 274.76L287.21 274.44L287.27 274.12L287.34 273.79L287.41 273.46L287.47 273.12L287.54 272.80L287.59 272.48L287.65 272.18L287.71 271.89L287.77 271.61L287.83 271.35L287.90 271.09L287.98 270.83L288.05 270.58L288.13 270.34L288.21 270.10L288.29 269.87L288.38 269.65L288.46 269.44L288.55 269.23L288.64 269.03L288.72 268.84L288.81 268.67L288.89 268.51L288.97 268.37L289.05 268.25L289.12 268.15L289.21 268.07L289.30 267.99L289.39 267.93L289.49 267.87L289.59 267.82L289.70 267.79L289.80 267.76L289.90 267.75L290.00 267.74L290.10 267.75L290.21 267.76L290.31 267.79L290.42 267.83L290.52 267.87L290.60 267.92L290.65 267.96L290.67 268.00L290.70 268.07L290.73 268.16L290.77 268.27L290.80 268.38L290.84 268.50L290.88 268.62L290.92 268.71Z"/><path d="M290.10 268.70a1.25 1.25 0 1 0 2.5 0a1.25 1.25 0 1 0 -2.5 0Z"/><path d="M277.10 286.30a1.25 1.25 0 1 0 2.5 0a1.25 1.25 0 1 0 -2.5 0Z"/><path d="M282.55 272.50L288.55 272.50L288.45 274.00L282.45 274.00Z"/><path d="M299.88 267.89L299.83 267.85L299.77 267.79L299.68 267.69L299.57 267.56L299.44 267.43L299.30 267.29L299.13 267.16L298.95 267.04L298.77 266.96L298.60 266.89L298.43 266.84L298.25 266.80L298.06 266.77L297.88 266.75L297.69 266.74L297.50 266.75L297.32 266.78L297.14 266.82L296.96 266.87L296.78 266.93L296.60 267.01L296.42 267.10L296.25 267.22L296.08 267.35L295.91 267.50L295.75 267.66L295.61 267.83L295.47 268.01L295.34 268.19L295.20 268.38L295.07 268.57L294.94 268.76L294.80 268.97L294.65 269.18L294.51 269.40L294.36 269.63L294.21 269.87L294.06 270.12L293.91 270.38L293.77 270.65L293.62 270.93L293.48 271.22L293.34 271.52L293.21 271.82L293.07 272.11L292.94 272.41L292.80 272.71L292.66 273.01L292.52 273.31L292.38 273.60L292.24 273.89L292.09 274.19L291.94 274.50L291.79 274.84L291.64 275.21L291.48 275.61L291.31 276.07L291.13 276.57L290.95 277.11L290.76 277.67L290.58 278.23L290.40 278.78L290.24 279.30L290.08 279.79L289.94 280.26L289.81 280.72L289.68 281.17L289.56 281.60L289.45 282.02L289.34 282.41L289.24 282.78L289.14 283.12L289.05 283.43L288.98 283.71L288.91 283.97L288.85 284.20L288.79 284.41L288.73 284.61L288.67 284.79L288.61 284.96L288.54 285.12L288.47 285.27L288.40 285.41L288.33 285.54L288.25 285.67L288.16 285.79L288.07 285.90L287.98 286.01L287.89 286.11L287.81 286.21L287.72 286.29L287.65 286.36L287.57 286.41L287.51 286.46L287.44 286.49L287.41 286.50L287.37 286.50L287.31 286.49L287.22 286.46L287.11 286.41L286.99 286.35L286.88 286.29L286.77 286.23L286.68 286.19L286.22 287.41L286.29 287.43L286.38 287.46L286.51 287.50L286.67 287.56L286.85 287.61L287.04 287.66L287.26 287.69L287.49 287.70L287.71 287.67L287.89 287.64L288.08 287.58L288.25 287.52L288.43 287.45L288.59 287.37L288.76 287.28L288.92 287.19L289.08 287.09L289.24 286.98L289.41 286.86L289.59 286.73L289.76 286.58L289.94 286.42L290.12 286.24L290.29 286.04L290.46 285.83L290.62 285.62L290.78 285.40L290.93 285.17L291.08 284.93L291.24 284.67L291.39 284.39L291.56 284.08L291.73 283.74L291.91 283.38L292.09 282.99L292.28 282.58L292.46 282.16L292.65 281.72L292.83 281.27L293.02 280.81L293.20 280.31L293.39 279.78L293.58 279.22L293.77 278.66L293.96 278.10L294.13 277.56L294.28 277.05L294.42 276.59L294.54 276.17L294.63 275.79L294.71 275.43L294.78 275.09L294.85 274.76L294.91 274.44L294.97 274.12L295.04 273.79L295.11 273.46L295.17 273.12L295.24 272.80L295.29 272.48L295.35 272.18L295.41 271.89L295.47 271.61L295.53 271.35L295.60 271.09L295.68 270.83L295.75 270.58L295.83 270.34L295.91 270.10L295.99 269.87L296.08 269.65L296.16 269.44L296.25 269.23L296.34 269.03L296.42 268.84L296.51 268.67L296.59 268.51L296.67 268.37L296.75 268.25L296.82 268.15L296.91 268.07L297.00 267.99L297.09 267.93L297.19 267.87L297.29 267.82L297.40 267.79L297.50 267.76L297.60 267.75L297.70 267.74L297.80 267.75L297.91 267.76L298.01 267.79L298.12 267.83L298.22 267.87L298.30 267.92L298.35 267.96L298.37 268.00L298.40 268.07L298.43 268.16L298.47 268.27L298.50 268.38L298.54 268.50L298.58 268.62L298.62 268.71Z"/><path d="M297.80 268.70a1.25 1.25 0 1 0 2.5 0a1.25 1.25 0 1 0 -2.5 0Z"/><path d="M284.80 286.30a1.25 1.25 0 1 0 2.5 0a1.25 1.25 0 1 0 -2.5 0Z"/><path d="M290.25 272.50L296.25 272.50L296.15 274.00L290.15 274.00Z"/><path d="M456.63 254.04L456.58 254.00L456.52 253.94L456.43 253.84L456.32 253.71L456.19 253.58L456.05 253.44L455.88 253.31L455.70 253.19L455.52 253.11L455.35 253.04L455.18 252.99L455.00 252.95L454.81 252.92L454.63 252.90L454.44 252.89L454.25 252.90L454.07 252.93L453.89 252.97L453.71 253.02L453.53 253.08L453.35 253.16L453.17 253.25L453.00 253.37L452.83 253.50L452.66 253.65L452.50 253.81L452.36 253.98L452.22 254.16L452.09 254.34L451.95 254.53L451.82 254.72L451.69 254.91L451.55 255.12L451.40 255.33L451.26 255.55L451.11 255.78L450.96 256.02L450.81 256.27L450.66 256.53L450.52 256.80L450.37 257.08L450.23 257.37L450.09 257.67L449.96 257.97L449.82 258.26L449.69 258.56L449.55 258.86L449.41 259.16L449.27 259.46L449.13 259.75L448.99 260.04L448.84 260.34L448.69 260.65L448.54 260.99L448.39 261.36L448.23 261.76L448.06 262.22L447.88 262.72L447.70 263.26L447.51 263.82L447.33 264.38L447.15 264.93L446.99 265.45L446.83 265.94L446.69 266.41L446.56 266.87L446.43 267.32L446.31 267.75L446.20 268.17L446.09 268.56L445.99 268.93L445.89 269.27L445.80 269.58L445.73 269.86L445.66 270.12L445.60 270.35L445.54 270.56L445.48 270.76L445.42 270.94L445.36 271.11L445.29 271.27L445.22 271.42L445.15 271.56L445.08 271.69L445.00 271.82L444.91 271.94L444.82 272.05L444.73 272.16L444.64 272.26L444.56 272.36L444.47 272.44L444.40 272.51L444.32 272.56L444.26 272.61L444.19 272.64L444.16 272.65L444.12 272.65L444.06 272.64L443.97 272.61L443.86 272.56L443.74 272.50L443.63 272.44L443.52 272.38L443.43 272.34L442.97 273.56L443.04 273.58L443.13 273.61L443.26 273.65L443.42 273.71L443.60 273.76L443.79 273.81L444.01 273.84L444.24 273.85L444.46 273.82L444.64 273.79L444.83 273.73L445.00 273.67L445.18 273.60L445.34 273.52L445.51 273.43L445.67 273.34L445.83 273.24L445.99 273.13L446.16 273.01L446.34 272.88L446.51 272.73L446.69 272.57L446.87 272.39L447.04 272.19L447.21 271.98L447.37 271.77L447.53 271.55L447.68 271.32L447.83 271.08L447.99 270.82L448.14 270.54L448.31 270.23L448.48 269.89L448.66 269.53L448.84 269.14L449.03 268.73L449.21 268.31L449.40 267.87L449.58 267.42L449.77 266.96L449.95 266.46L450.14 265.93L450.33 265.37L450.52 264.81L450.71 264.25L450.88 263.71L451.03 263.20L451.17 262.74L451.29 262.32L451.38 261.94L451.46 261.58L451.53 261.24L451.60 260.91L451.66 260.59L451.72 260.27L451.79 259.94L451.86 259.61L451.92 259.27L451.99 258.95L452.04 258.63L452.10 258.33L452.16 258.04L452.22 257.76L452.28 257.50L452.35 257.24L452.43 256.98L452.50 256.73L452.58 256.49L452.66 256.25L452.74 256.02L452.83 255.80L452.91 255.59L453.00 255.38L453.09 255.18L453.17 254.99L453.26 254.82L453.34 254.66L453.42 254.52L453.50 254.40L453.57 254.30L453.66 254.22L453.75 254.14L453.84 254.08L453.94 254.02L454.04 253.97L454.15 253.94L454.25 253.91L454.35 253.90L454.45 253.89L454.55 253.90L454.66 253.91L454.76 253.94L454.87 253.98L454.97 254.02L455.05 254.07L455.10 254.11L455.12 254.15L455.15 254.22L455.18 254.31L455.22 254.42L455.25 254.53L455.29 254.65L455.33 254.77L455.37 254.86Z"/><path d="M454.55 254.85a1.25 1.25 0 1 0 2.5 0a1.25 1.25 0 1 0 -2.5 0Z"/><path d="M441.55 272.45a1.25 1.25 0 1 0 2.5 0a1.25 1.25 0 1 0 -2.5 0Z"/><path d="M447.00 258.65L453.00 258.65L452.90 260.15L446.90 260.15Z"/><path d="M453.30 268.55L456.00 268.55L458.15 258.85L455.65 258.85L454.80 259.45L455.45 259.60Z"/><path d="M457.69 262.01L457.80 261.89L457.95 261.71L458.12 261.50L458.31 261.29L458.50 261.10L458.68 260.96L458.85 260.86L459.03 260.76L459.21 260.69L459.39 260.63L459.57 260.60L459.73 260.58L459.88 260.60L460.04 260.64L460.20 260.70L460.36 260.76L460.51 260.81L460.64 260.85L460.56 259.25L460.47 259.30L460.33 259.35L460.14 259.43L459.92 259.51L459.69 259.61L459.47 259.72L459.27 259.84L459.08 259.96L458.89 260.09L458.70 260.23L458.51 260.38L458.32 260.54L458.13 260.73L457.93 260.95L457.74 261.17L457.56 261.39L457.42 261.56L457.31 261.69Z"/><path d="M459.58 260.20a1.32 1.32 0 1 0 2.64 0a1.32 1.32 0 1 0 -2.64 0Z"/><path d="M468.10 260.35L480.40 260.35L480.40 261.95L468.10 261.95Z"/><path d="M473.60 255.10L475.20 255.10L475.20 267.10L473.60 267.10Z"/><path d="M509.43 253.94L509.38 253.90L509.32 253.84L509.23 253.74L509.12 253.61L508.99 253.48L508.85 253.34L508.68 253.21L508.50 253.09L508.32 253.01L508.15 252.94L507.98 252.89L507.80 252.85L507.61 252.82L507.43 252.80L507.24 252.79L507.05 252.80L506.87 252.83L506.69 252.87L506.51 252.92L506.33 252.98L506.15 253.06L505.97 253.15L505.80 253.27L505.63 253.40L505.46 253.55L505.30 253.71L505.16 253.88L505.02 254.06L504.89 254.24L504.75 254.43L504.62 254.62L504.49 254.81L504.35 255.02L504.20 255.23L504.06 255.45L503.91 255.68L503.76 255.92L503.61 256.17L503.46 256.43L503.32 256.70L503.17 256.98L503.03 257.27L502.89 257.57L502.76 257.87L502.62 258.16L502.49 258.46L502.35 258.76L502.21 259.06L502.07 259.36L501.93 259.65L501.79 259.94L501.64 260.24L501.49 260.55L501.34 260.89L501.19 261.26L501.03 261.66L500.86 262.12L500.68 262.62L500.50 263.16L500.31 263.72L500.13 264.28L499.95 264.83L499.79 265.35L499.63 265.84L499.49 266.31L499.36 266.77L499.23 267.22L499.11 267.65L499.00 268.07L498.89 268.46L498.79 268.83L498.69 269.17L498.60 269.48L498.53 269.76L498.46 270.02L498.40 270.25L498.34 270.46L498.28 270.66L498.22 270.84L498.16 271.01L498.09 271.17L498.02 271.32L497.95 271.46L497.88 271.59L497.80 271.72L497.71 271.84L497.62 271.95L497.53 272.06L497.44 272.16L497.36 272.26L497.27 272.34L497.20 272.41L497.12 272.46L497.06 272.51L496.99 272.54L496.96 272.55L496.92 272.55L496.86 272.54L496.77 272.51L496.66 272.46L496.54 272.40L496.43 272.34L496.32 272.28L496.23 272.24L495.77 273.46L495.84 273.48L495.93 273.51L496.06 273.55L496.22 273.61L496.40 273.66L496.59 273.71L496.81 273.74L497.04 273.75L497.26 273.72L497.44 273.69L497.63 273.63L497.80 273.57L497.98 273.50L498.14 273.42L498.31 273.33L498.47 273.24L498.63 273.14L498.79 273.03L498.96 272.91L499.14 272.78L499.31 272.63L499.49 272.47L499.67 272.29L499.84 272.09L500.01 271.88L500.17 271.67L500.33 271.45L500.48 271.22L500.63 270.98L500.79 270.72L500.94 270.44L501.11 270.13L501.28 269.79L501.46 269.43L501.64 269.04L501.83 268.63L502.01 268.21L502.20 267.77L502.38 267.32L502.57 266.86L502.75 266.36L502.94 265.83L503.13 265.27L503.32 264.71L503.51 264.15L503.68 263.61L503.83 263.10L503.97 262.64L504.09 262.22L504.18 261.84L504.26 261.48L504.33 261.14L504.40 260.81L504.46 260.49L504.52 260.17L504.59 259.84L504.66 259.51L504.72 259.17L504.79 258.85L504.84 258.53L504.90 258.23L504.96 257.94L505.02 257.66L505.08 257.40L505.15 257.14L505.23 256.88L505.30 256.63L505.38 256.39L505.46 256.15L505.54 255.92L505.63 255.70L505.71 255.49L505.80 255.28L505.89 255.08L505.97 254.89L506.06 254.72L506.14 254.56L506.22 254.42L506.30 254.30L506.37 254.20L506.46 254.12L506.55 254.04L506.64 253.98L506.74 253.92L506.84 253.87L506.95 253.84L507.05 253.81L507.15 253.80L507.25 253.79L507.35 253.80L507.46 253.81L507.56 253.84L507.67 253.88L507.77 253.92L507.85 253.97L507.90 254.01L507.92 254.05L507.95 254.12L507.98 254.21L508.02 254.32L508.05 254.43L508.09 254.55L508.13 254.67L508.17 254.76Z"/><path d="M507.35 254.75a1.25 1.25 0 1 0 2.5 0a1.25 1.25 0 1 0 -2.5 0Z"/><path d="M494.35 272.35a1.25 1.25 0 1 0 2.5 0a1.25 1.25 0 1 0 -2.5 0Z"/><path d="M499.80 258.55L505.80 258.55L505.70 260.05L499.70 260.05Z"/><path d="M517.13 253.94L517.08 253.90L517.02 253.84L516.93 253.74L516.82 253.61L516.69 253.48L516.55 253.34L516.38 253.21L516.20 253.09L516.02 253.01L515.85 252.94L515.68 252.89L515.50 252.85L515.31 252.82L515.13 252.80L514.94 252.79L514.75 252.80L514.57 252.83L514.39 252.87L514.21 252.92L514.03 252.98L513.85 253.06L513.67 253.15L513.50 253.27L513.33 253.40L513.16 253.55L513.00 253.71L512.86 253.88L512.72 254.06L512.59 254.24L512.45 254.43L512.32 254.62L512.19 254.81L512.05 255.02L511.90 255.23L511.76 255.45L511.61 255.68L511.46 255.92L511.31 256.17L511.16 256.43L511.02 256.70L510.87 256.98L510.73 257.27L510.59 257.57L510.46 257.87L510.32 258.16L510.19 258.46L510.05 258.76L509.91 259.06L509.77 259.36L509.63 259.65L509.49 259.94L509.34 260.24L509.19 260.55L509.04 260.89L508.89 261.26L508.73 261.66L508.56 262.12L508.38 262.62L508.20 263.16L508.01 263.72L507.83 264.28L507.65 264.83L507.49 265.35L507.33 265.84L507.19 266.31L507.06 266.77L506.93 267.22L506.81 267.65L506.70 268.07L506.59 268.46L506.49 268.83L506.39 269.17L506.30 269.48L506.23 269.76L506.16 270.02L506.10 270.25L506.04 270.46L505.98 270.66L505.92 270.84L505.86 271.01L505.79 271.17L505.72 271.32L505.65 271.46L505.58 271.59L505.50 271.72L505.41 271.84L505.32 271.95L505.23 272.06L505.14 272.16L505.06 272.26L504.97 272.34L504.90 272.41L504.82 272.46L504.76 272.51L504.69 272.54L504.66 272.55L504.62 272.55L504.56 272.54L504.47 272.51L504.36 272.46L504.24 272.40L504.13 272.34L504.02 272.28L503.93 272.24L503.47 273.46L503.54 273.48L503.63 273.51L503.76 273.55L503.92 273.61L504.10 273.66L504.29 273.71L504.51 273.74L504.74 273.75L504.96 273.72L505.14 273.69L505.33 273.63L505.50 273.57L505.68 273.50L505.84 273.42L506.01 273.33L506.17 273.24L506.33 273.14L506.49 273.03L506.66 272.91L506.84 272.78L507.01 272.63L507.19 272.47L507.37 272.29L507.54 272.09L507.71 271.88L507.87 271.67L508.03 271.45L508.18 271.22L508.33 270.98L508.49 270.72L508.64 270.44L508.81 270.13L508.98 269.79L509.16 269.43L509.34 269.04L509.53 268.63L509.71 268.21L509.90 267.77L510.08 267.32L510.27 266.86L510.45 266.36L510.64 265.83L510.83 265.27L511.02 264.71L511.21 264.15L511.38 263.61L511.53 263.10L511.67 262.64L511.79 262.22L511.88 261.84L511.96 261.48L512.03 261.14L512.10 260.81L512.16 260.49L512.22 260.17L512.29 259.84L512.36 259.51L512.42 259.17L512.49 258.85L512.54 258.53L512.60 258.23L512.66 257.94L512.72 257.66L512.78 257.40L512.85 257.14L512.93 256.88L513.00 256.63L513.08 256.39L513.16 256.15L513.24 255.92L513.33 255.70L513.41 255.49L513.50 255.28L513.59 255.08L513.67 254.89L513.76 254.72L513.84 254.56L513.92 254.42L514.00 254.30L514.07 254.20L514.16 254.12L514.25 254.04L514.34 253.98L514.44 253.92L514.54 253.87L514.65 253.84L514.75 253.81L514.85 253.80L514.95 253.79L515.05 253.80L515.16 253.81L515.26 253.84L515.37 253.88L515.47 253.92L515.55 253.97L515.60 254.01L515.62 254.05L515.65 254.12L515.68 254.21L515.72 254.32L515.75 254.43L515.79 254.55L515.83 254.67L515.87 254.76Z"/><path d="M515.05 254.75a1.25 1.25 0 1 0 2.5 0a1.25 1.25 0 1 0 -2.5 0Z"/><path d="M502.05 272.35a1.25 1.25 0 1 0 2.5 0a1.25 1.25 0 1 0 -2.5 0Z"/><path d="M507.50 258.55L513.50 258.55L513.40 260.05L507.40 260.05Z"/></g>
<text transform="translate(269.95 282.90) scale(0.97 1.0)" font-family="Liberation Serif" font-weight="bold" font-style="italic" font-size="23.8" fill="#000">2</text>
<text transform="translate(486.70 268.60) scale(0.97 1.0)" font-family="Liberation Serif" font-weight="bold" font-style="italic" font-size="23.8" fill="#000">2</text>
</svg>
</body></html>
